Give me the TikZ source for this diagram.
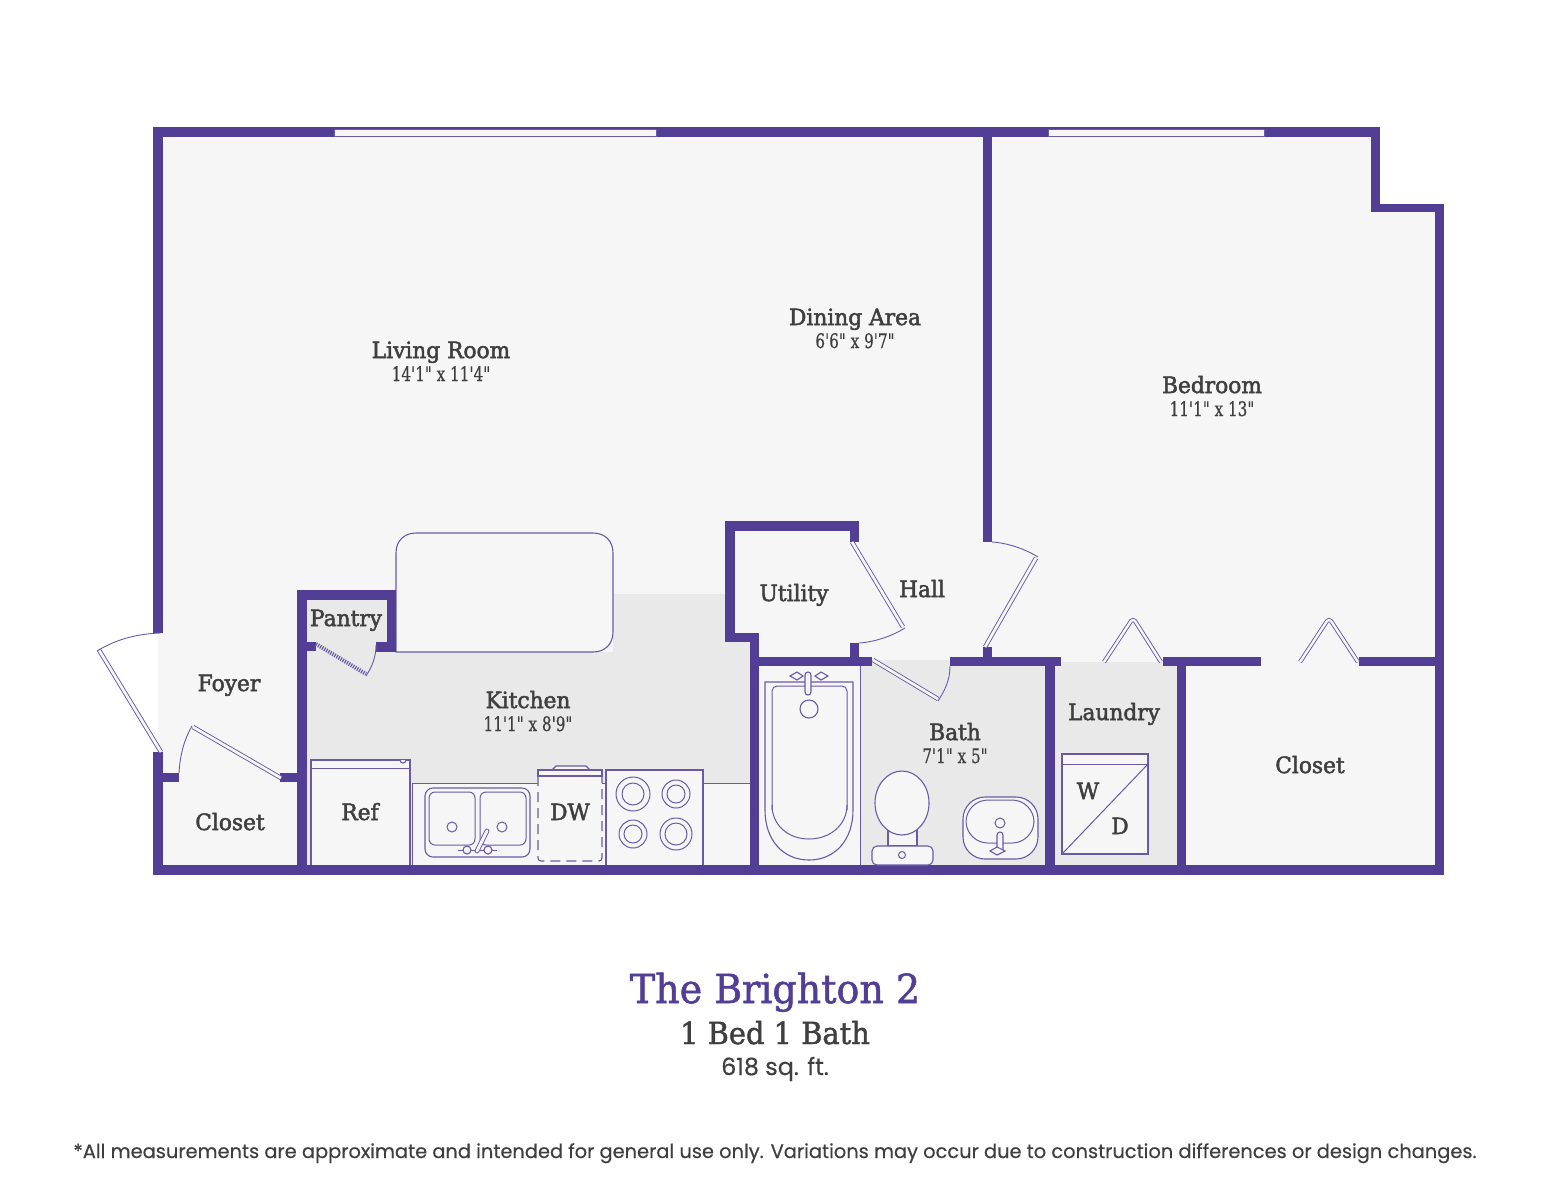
\documentclass[tikz,border=0pt]{standalone}
\usepackage{fontspec}
\setmainfont{DejaVu Serif}
\newfontfamily\labelf{DejaVu Serif}[FakeStretch=0.97,FakeBold=2.2]
\newfontfamily\dimf{DejaVu Serif}[FakeStretch=0.76,FakeBold=0.4]
\newfontfamily\titlef{DejaVu Serif}[FakeStretch=0.95,FakeBold=1.4]
\newfontfamily\sansf{Poppins}[FakeBold=0.3]
\definecolor{wallc}{HTML}{523E95}
\definecolor{linec}{HTML}{6A5AA6}
\definecolor{floorc}{HTML}{F6F6F7}
\definecolor{shadec}{HTML}{E9E9EA}
\definecolor{textc}{HTML}{3F3F3F}
\tikzset{
  wallfill/.style={fill=wallc,draw=none},
  thin line/.style={draw=linec,line width=0.5pt},
  fixture/.style={draw=linec,line width=0.55pt,fill=floorc},
  doorleaf/.style={draw=linec,line width=0.45pt,double=floorc,double distance=1.35pt},
  doorarc/.style={draw=linec,line width=0.45pt},
  roomlabel/.style={text=textc,font=\labelf\fontsize{11.2}{12}\selectfont,inner sep=0pt,anchor=base},
  dimlabel/.style={text=textc,font=\dimf\fontsize{10}{12}\selectfont,inner sep=0pt,anchor=base}
}
\newcommand{\wallrect}[4]{\fill[wallfill] (#1,#2) rectangle (#3,#4);}
\begin{document}
\begin{tikzpicture}[x=0.5pt,y=-0.5pt]
\useasboundingbox (0,0) rectangle (1552,1200);
\fill[white] (0,0) rectangle (1552,1200);
% floors
\fill[floorc] (158,132) -- (1375,132) -- (1375,208) -- (1440,208) -- (1440,870) -- (158,870) -- cycle;
\fill[shadec] (307,652) -- (613,652) -- (613,594) -- (727,594) -- (727,640) -- (755,640) -- (755,870) -- (307,870) -- cycle;
\fill[shadec] (860,660) rectangle (1050,870);
\fill[shadec] (1050,662) rectangle (1180,870);
\fill[shadec] (307,600) rectangle (387,653);
% island
\draw[fixture] (396,652) -- (396,553) .. controls (396,541) and (404,533) .. (416,533) -- (593,533) .. controls (605,533) and (613,541) .. (613,553) -- (613,632) .. controls (613,644) and (605,652) .. (593,652) -- cycle;
% walls
\wallrect{153}{127}{1380}{137}
\wallrect{153}{127}{163}{633}
\wallrect{153}{752}{163}{875}
\wallrect{153}{865}{1444}{875}
\wallrect{1371}{127}{1380}{212}
\wallrect{1371}{204}{1444}{212}
\wallrect{1435}{204}{1444}{875}
\wallrect{163}{773}{179}{782}
\wallrect{280}{773}{305}{782}
\wallrect{297}{590}{307}{875}
\wallrect{297}{590}{396}{600}
\wallrect{387}{590}{396}{652}
\wallrect{376}{642}{396}{652}
\wallrect{307}{642}{316}{651}
\wallrect{725}{521}{859}{531}
\wallrect{725}{521}{735}{642}
\wallrect{725}{633}{759}{642}
\wallrect{750}{633}{759}{875}
\wallrect{850}{521}{859}{542}
\wallrect{850}{643}{859}{666}
\wallrect{750}{657}{872}{666}
\wallrect{950}{657}{1061}{666}
\wallrect{983}{647}{992}{666}
\wallrect{983}{127}{992}{542}
\wallrect{1045}{657}{1055}{875}
\wallrect{1163}{657}{1261}{666}
\wallrect{1177}{657}{1186}{875}
\wallrect{1359}{657}{1444}{666}
\draw[draw=linec,line width=0.4pt,fill=floorc] (334,129.5) rectangle (656,136.5);
\draw[draw=linec,line width=0.4pt,fill=floorc] (1048,129.5) rectangle (1264,136.5);
% doors
\draw[doorleaf] (161,752) -- (99,650);
\draw[doorarc] (97,651) .. controls (115,640) and (135,634) .. (160,633);
\draw[doorleaf] (281,778) -- (193,727);
\draw[doorarc] (192,726) .. controls (184,740) and (180,755) .. (179,773);
\draw[draw=linec,line width=2pt,dash pattern=on 0.6pt off 0.6pt] (316,644) -- (366,674);
\draw[doorarc] (366,676) .. controls (372,667) and (376,657) .. (376,645);
\draw[doorleaf] (852,542) -- (903,627);
\draw[doorarc] (905,628) .. controls (892,636) and (875,642) .. (859,643);
\draw[doorleaf] (985,647) -- (1036,558);
\draw[doorarc] (1038,557) .. controls (1025,549) and (1008,543) .. (992,542);
\draw[doorleaf] (873,660) -- (938,699);
\draw[doorarc] (938,701) .. controls (945,690) and (950,680) .. (950,666);
\draw[doorleaf,double distance=1.2pt] (1104,662) -- (1131,621) -- (1133,620) -- (1135,621) -- (1161,662);
\draw[doorleaf,double distance=1.2pt] (1300,662) -- (1327,621) -- (1329,620) -- (1331,621) -- (1358,662);
% ref
\draw[fixture] (311,865) -- (311,760) -- (410,760) -- (410,865);
\draw[thin line] (311,768) -- (410,768);
\draw[fixture] (400,760) arc[start angle=180,end angle=0,radius=3];
% counter
\fill[floorc] (412,783) rectangle (750,865);
\draw[thin line] (412,865) -- (412,783) -- (750,783);
% sink
\draw[fixture,rounded corners=4pt] (425,788) rectangle (530,857);
\draw[thin line,rounded corners=3pt] (429,792) rectangle (475,845);
\draw[thin line,rounded corners=3pt] (480,792) rectangle (526,845);
\draw[thin line] (452,827) circle[radius=5];
\draw[thin line] (502,827) circle[radius=5];
\draw[thin line] (458,850) -- (497,850);
\draw[fixture] (467,850) circle[radius=4];
\draw[fixture] (488,850) circle[radius=4];
\draw[line width=2.4pt,draw=linec,line cap=round] (487,831) -- (477,851);
\draw[line width=1.5pt,draw=floorc,line cap=round] (487,831) -- (477,851);
% dishwasher
\draw[fixture] (552,770) -- (556,766) -- (586,766) -- (590,770);
\fill[floorc] (538,776) rectangle (602,861);
\draw[fixture] (538,770) rectangle (602,776);
\draw[draw=linec,line width=0.55pt,dash pattern=on 5pt off 3pt,rounded corners=1.5pt] (538,776) -- (538,861) -- (602,861) -- (602,776);
% range
\draw[fixture] (606,865) -- (606,770) -- (703,770) -- (703,865);
\foreach \cx/\cy/\ro/\ri in {633/794/17/11,676/794/14/9,633/834/14/9,676/834/16/11}{
  \draw[thin line] (\cx,\cy) circle[radius=\ro];
  \draw[thin line] (\cx,\cy) circle[radius=\ri];
}
% tub
\draw[thin line] (860,666) -- (860,865);
\draw[fixture] (765,682) -- (853,682) -- (853,810) .. controls (853,840) and (835,860) .. (809,860) .. controls (783,860) and (765,840) .. (765,810) -- cycle;
\draw[thin line,rounded corners=2.5pt] (772,810) -- (772,686) -- (847,686) -- (847,810);
\draw[thin line] (847,805) .. controls (847,825) and (830,839) .. (809,839) .. controls (788,839) and (772,825) .. (772,805);
\draw[fixture] (809,709) circle[radius=9];
\draw[fixture] (790,676) -- (797,672) -- (803,676) -- (797,680) -- cycle;
\draw[fixture] (815,676) -- (821,672) -- (828,676) -- (821,680) -- cycle;
\draw[fixture,rounded corners=1.5pt] (805,672) rectangle (811,695);
% toilet
\draw[fixture] (888,825) -- (888,846) -- (917,846) -- (917,825);
\draw[fixture,rounded corners=2.5pt] (872,846) rectangle (933,865);
\draw[fixture] (902,803) ellipse[x radius=27,y radius=32];
\draw[thin line] (902,855) circle[radius=3.5];
% basin
\draw[fixture,rounded corners=11pt] (963,797) rectangle (1038,859);
\draw[thin line,rounded corners=11pt] (966,800) -- (1034,800) -- (1034,843) -- (966,843) -- cycle;
\draw[thin line] (1000,823) circle[radius=5];
\draw[fixture,rounded corners=1.5pt] (997,832) rectangle (1003,852);
\draw[fixture] (990,851) -- (997,847) -- (1005,851) -- (997,855) -- cycle;
% W/D
\draw[fixture] (1062,754) rectangle (1148,854);
\draw[thin line] (1062,764) -- (1148,764);
\draw[thin line] (1062,854) -- (1148,764);
% labels
\node[roomlabel] (living) at (441,358) {Living Room};
\node[dimlabel] (livingd) at (441,381) {14'1" x 11'4"};
\node[roomlabel] (dining) at (855,325) {Dining Area};
\node[dimlabel] (diningd) at (855,348) {6'6" x 9'7"};
\node[roomlabel] (bedroom) at (1212,393) {Bedroom};
\node[dimlabel] (bedroomd) at (1212,416) {11'1" x 13"};
\node[roomlabel] (pantry) at (346,626) {Pantry};
\node[roomlabel] (foyer) at (229,691) {Foyer};
\node[roomlabel] (closeta) at (230,830) {Closet};
\node[roomlabel] (ref) at (360,820) {Ref};
\node[roomlabel] (kitchen) at (528,708) {Kitchen};
\node[dimlabel] (kitchend) at (528,731) {11'1" x 8'9"};
\node[roomlabel] (dw) at (570,820) {DW};
\node[roomlabel] (utility) at (794,601) {Utility};
\node[roomlabel] (hall) at (922,597) {Hall};
\node[roomlabel] (bath) at (955,740) {Bath};
\node[dimlabel] (bathd) at (955,763) {7'1" x 5"};
\node[roomlabel] (laundry) at (1114,720) {Laundry};
\node[roomlabel] (wash) at (1088,799) {W};
\node[roomlabel] (dry) at (1120,834) {D};
\node[roomlabel] (closetb) at (1310,773) {Closet};
\node[text=wallc,font=\titlef\fontsize{20}{24}\selectfont,inner sep=0pt,anchor=base] (title) at (775,1003) {The Brighton 2};
\node[text=textc,font=\titlef\fontsize{15.2}{20}\selectfont,inner sep=0pt,anchor=base] (sub) at (775,1044) {1 Bed 1 Bath};
\node[text=textc,font=\sansf\fontsize{11.9}{14}\selectfont,inner sep=0pt,anchor=base] (area) at (775,1075) {618 sq. ft.};
\node[text=textc,font=\sansf\fontsize{9.7}{12}\selectfont,inner sep=0pt,anchor=base] (note) at (775,1158) {*All measurements are approximate and intended for general use only. Variations may occur due to construction differences or design changes.};
\end{tikzpicture}
\end{document}
